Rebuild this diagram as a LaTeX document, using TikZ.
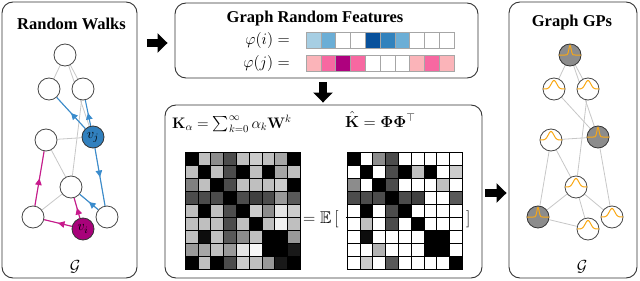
\RequirePackage{fix-cm}
\documentclass[tikz,border=0pt]{standalone}
\usepackage{amsmath,amssymb}
\usepackage[no-math]{fontspec}
\setmainfont{Liberation Serif}
\usetikzlibrary{arrows.meta,decorations.markings}
\pgfdeclarelayer{bg}
\pgfsetlayers{bg,main}
\definecolor{wblue}{RGB}{58,140,205}
\definecolor{nblue}{RGB}{49,128,190}
\definecolor{wmag}{RGB}{200,25,140}
\definecolor{nmag}{RGB}{168,2,122}
\definecolor{gporange}{RGB}{250,168,20}
\definecolor{bl1}{RGB}{166,206,227}
\definecolor{bl2}{RGB}{107,174,214}
\definecolor{bl3}{RGB}{49,130,189}
\definecolor{bl4}{RGB}{8,81,156}
\definecolor{pk1}{RGB}{251,180,185}
\definecolor{pk2}{RGB}{247,104,161}
\definecolor{pk3}{RGB}{174,1,126}
\begin{document}
\begin{tikzpicture}[x=1pt,y=-1pt,
  panel/.style={draw=black!80, line width=0.9pt, rounded corners=11pt, inner sep=0pt},
  ttl/.style={font=\fontsize{16.5}{18}\selectfont\bfseries, inner sep=0pt, anchor=base},
  mtxt/.style={font=\fontsize{16}{18}\selectfont, inner sep=0pt},
  gnode/.style={circle, draw=black!72, line width=0.8pt, fill=white, minimum size=22pt, inner sep=0pt},
  gpgray/.style={gnode, fill=black!45, draw=black!80},
  gedge/.style={draw=black!22, line width=0.8pt},
  walk/.style={line width=1.1pt, postaction={decorate},
    decoration={markings, mark=at position 0.5 with {\arrow{Triangle[length=6.5pt,width=6.5pt]}}}},
  blockarrow/.style={line width=8pt, -{Triangle[width=19pt,length=10pt]}},
  gpcurve/.style={draw=gporange, line width=1pt},
  cell/.style={draw=black!35, line width=0.5pt},
  mcell/.style={draw=black, line width=0.5pt}
]
\useasboundingbox (0,0) rectangle (640,281);

% panels
\node[panel, minimum width=135pt, minimum height=276pt] (lbox) at (69.5,140) {};
\node[panel, minimum width=303pt, minimum height=75pt] (tbox) at (326.5,40.5) {};
\node[panel, minimum width=317pt, minimum height=173pt] (bbox) at (323.5,191.5) {};
\node[panel, minimum width=128pt, minimum height=276pt] (rbox) at (573,140) {};

% titles
\node[ttl] (t1) at (71.5,29.5) {Random Walks};
\node[ttl] (t2) at (315,22) {Graph Random Features};
\node[ttl] (t3) at (572,26.5) {Graph GPs};

% block arrows
\draw[blockarrow, shorten <=9.5pt, shorten >=7pt] ([yshift=-2.5pt]lbox.east |- tbox.west) -- ([yshift=-2.5pt]tbox.west);
\draw[blockarrow, shorten <=4pt, shorten >=2pt] ([xshift=-3.5pt]tbox.south) -- ([xshift=-3.5pt]tbox.south |- bbox.north);
\draw[blockarrow, shorten <=3pt, shorten >=2pt] ([yshift=-1.5pt]bbox.east) -- ([yshift=-1.5pt]bbox.east -| rbox.west);

% ---------- left graph ----------
\node[gnode] (A) at (65,55) {};
\node[gnode] (B) at (49,89) {};
\node[gnode] (C) at (83,89) {};
\node[gnode] (D) at (46,140) {};
\node[gnode, fill=nblue, draw=black!80] (E) at (93,137) {\fontsize{14}{14}\selectfont$v_j$};
\node[gnode] (F) at (71,187) {};
\node[gnode] (G) at (33,217) {};
\node[gnode, fill=nmag, draw=black!80] (H) at (83,229) {\fontsize{14}{14}\selectfont$v_i$};
\node[gnode] (I) at (107,217) {};
\begin{pgfonlayer}{bg}
\foreach \a/\b in {A/B,A/C,A/E,B/E,C/F,D/E,D/F,D/G,E/I,F/G,F/H,F/I,G/H}
  \draw[gedge] (\a) -- (\b);
\end{pgfonlayer}
\draw[walk, wblue] (E) -- (B);
\draw[walk, wblue] (E) -- (C);
\draw[walk, wblue] (E) -- (I);
\draw[walk, wblue] (I) -- (F);
\draw[walk, wmag] (H) -- (G);
\draw[walk, wmag] (G) -- (D);
\draw[walk, wmag] (H) -- (F);
\node[mtxt] (g1) at (75,267) {$\mathcal{G}$};

% ---------- right graph ----------
\node[gpgray] (A2) at (570,55) {};
\node[gnode] (B2) at (554,89) {};
\node[gnode] (C2) at (588,89) {};
\node[gnode] (D2) at (551,140) {};
\node[gpgray] (E2) at (598,137) {};
\node[gnode] (F2) at (576,187) {};
\node[gpgray] (G2) at (538,217) {};
\node[gnode] (H2) at (588,229) {};
\node[gnode] (I2) at (612,217) {};
\begin{pgfonlayer}{bg}
\foreach \a/\b in {A2/B2,A2/C2,A2/E2,B2/E2,C2/F2,D2/E2,D2/F2,D2/G2,E2/I2,F2/G2,F2/H2,F2/I2,G2/H2}
  \draw[gedge] (\a) -- (\b);
\end{pgfonlayer}
\foreach \n in {B2,C2,D2,F2,H2,I2}
  \draw[gpcurve, shift={(\n.center)}] plot[domain=-11:11, samples=45, smooth] (\x,{-8.5*exp(-(\x*\x)/15)});
\foreach \n in {A2,E2,G2}
  \draw[gpcurve, shift={(\n.center)}] plot[domain=-11:11, samples=61, smooth] (\x,{-9.5*exp(-(\x*\x)/2.6)});
\node[mtxt] (g2) at (582,267) {$\mathcal{G}$};

% ---------- feature vectors ----------
\node[mtxt, anchor=base east] (phii) at (290,44) {$\varphi(i) =$};
\node[mtxt, anchor=base east] (phij) at (290,67) {$\varphi(j) =$};
\foreach \col [count=\c from 0] in {bl1,bl2,white,white,bl4,bl3,bl2,white,white,white}
  \filldraw[cell, fill=\col] ({306+14.8*\c},32.3) rectangle ++(14.8,16);
\foreach \col [count=\c from 0] in {pk1,pk2,pk3,pk2,white,white,white,pk1,pk2,pk1}
  \filldraw[cell, fill=\col] ({306+14.8*\c},55) rectangle ++(14.8,16);

% ---------- kernel formulas ----------
\node[mtxt, font=\fontsize{15.2}{18}\selectfont, anchor=base west] (f1) at (172,128) {$\mathbf{K}_\alpha = \sum_{k=0}^{\infty} \alpha_k \mathbf{W}^k$};
\node[mtxt, anchor=base west] (f2) at (345,127) {$\hat{\mathbf{K}} = \mathbf{\Phi}\mathbf{\Phi}^{\top}$};

% matrix 1
\foreach \rowvals [count=\r from 0] in {
  {100,25,45,70,25,20,25,35,100},
  {25,100,25,70,100,25,100,35,25},
  {50,25,100,70,25,25,25,20,100},
  {70,70,70,100,70,75,70,40,65},
  {25,100,25,70,100,20,45,10,20},
  {25,25,25,70,25,100,25,5,25},
  {25,95,25,65,45,25,100,100,40},
  {40,35,25,40,10,3,100,100,90},
  {100,25,100,70,20,25,40,90,100}}
{
  \foreach \v [count=\c from 0] in \rowvals
    \filldraw[mcell, fill=black!\v] ({185+12.8*\c},{152.7+13*\r}) rectangle ++(12.8,13);
}
% matrix 2
\foreach \rowvals [count=\r from 0] in {
  {100,0,45,70,0,0,0,0,0},
  {0,100,0,70,100,25,100,0,20},
  {45,0,100,70,0,0,0,25,0},
  {70,70,70,100,70,75,0,0,65},
  {0,100,0,70,100,0,0,0,0},
  {0,25,0,70,0,100,0,0,0},
  {0,95,0,0,0,0,100,100,0},
  {0,0,30,0,0,0,100,100,0},
  {0,20,0,65,0,0,0,0,100}}
{
  \foreach \v [count=\c from 0] in \rowvals
    \filldraw[mcell, fill=black!\v] ({347+12.8*\c},{152.7+13*\r}) rectangle ++(12.8,13);
}
\draw[line width=1.3pt] (346,217.7) -- (463,217.7);

\node[mtxt, font=\fontsize{17}{18}\selectfont, anchor=base west] (eq) at (303,223) {$=\mathbb{E}\,[$};
\node[mtxt, font=\fontsize{17}{18}\selectfont, anchor=base west] (rb) at (466,223) {$]$};
\end{tikzpicture}
\end{document}
